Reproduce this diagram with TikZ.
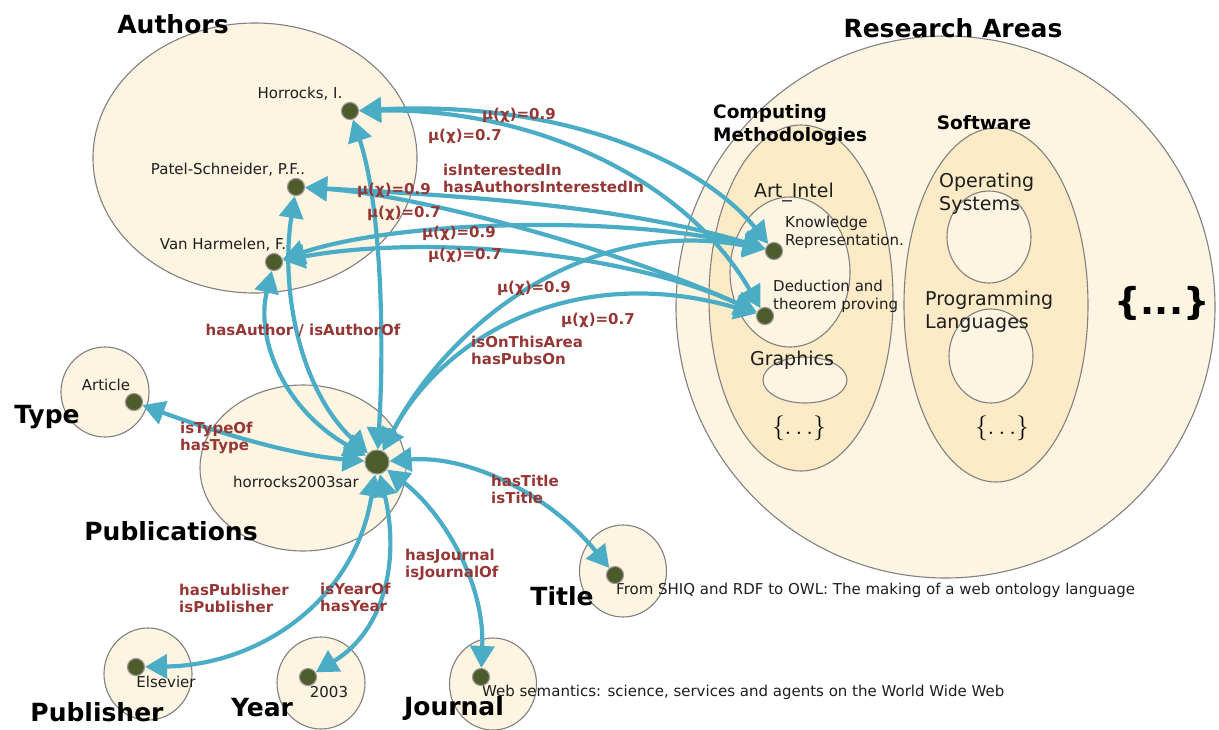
\documentclass[tikz,border=0pt]{standalone}
\usepackage{fontspec}
\setmainfont{DejaVu Sans}
\usetikzlibrary{arrows.meta,shapes.geometric}

\definecolor{linkblue}{HTML}{4BACC6}
\definecolor{relred}{HTML}{953735}
\definecolor{setfill}{HTML}{FDF5E2}
\definecolor{subfill}{HTML}{FCEBC6}
\definecolor{setedge}{HTML}{808080}
\definecolor{dotfill}{HTML}{4E5B2A}
\definecolor{inktext}{HTML}{1E1E1E}

\tikzset{
  region/.style={ellipse, draw=setedge, line width=1.1pt, fill=setfill, inner sep=0pt},
  subregion/.style={region, fill=subfill},
  dotnode/.style={circle, fill=dotfill, draw=gray!80, line width=1.2pt, minimum size=17pt, inner sep=0pt},
  bigdot/.style={dotnode, minimum size=24pt},
  setname/.style={font=\fontsize{25}{28}\bfseries\selectfont, inner sep=0pt},
  subname/.style={font=\fontsize{18.5}{23}\bfseries\selectfont, inner sep=0pt, align=left},
  areaname/.style={font=\fontsize{19}{23}\selectfont, inner sep=0pt, align=left, text=inktext},
  itemtext/.style={font=\fontsize{15}{18}\selectfont, inner sep=0pt, align=left, text=inktext},
  rel/.style={font=\fontsize{15}{17}\bfseries\selectfont, inner sep=0pt, align=left, text=relred, anchor=west},
  etc/.style={font=\fontsize{28}{32}\selectfont, inner sep=0pt},
  link/.style={draw=linkblue, line width=4.2pt,
    {Triangle[length=22pt,width=24pt]}-{Triangle[length=22pt,width=24pt]}},
}

\begin{document}
\begin{tikzpicture}[x=1pt, y=-1pt]
\useasboundingbox (0,0) rectangle (1219,729);

% ---- sets ----
\node[region, minimum width=324pt, minimum height=270pt] (authorsSet) at (255,158) {};
\node[region, minimum width=88pt, minimum height=90pt] (typeSet) at (105,392) {};
\node[region, minimum width=206pt, minimum height=166pt] (pubSet) at (303,468) {};
\node[region, minimum width=88pt, minimum height=92pt] (publisherSet) at (148,674) {};
\node[region, minimum width=88pt, minimum height=92pt] (yearSet) at (321,683) {};
\node[region, minimum width=87pt, minimum height=92pt] (journalSet) at (493,684) {};
\node[region, minimum width=87pt, minimum height=92pt] (titleSet) at (623,571) {};

% research areas
\node[region, minimum width=539pt, minimum height=542pt] (areasSet) at (945.5,307) {};
\node[subregion, minimum width=184pt, minimum height=346pt] (compSet) at (801,298) {};
\node[subregion, minimum width=184pt, minimum height=354pt] (softSet) at (996,305) {};
\node[region, minimum width=120pt, minimum height=150pt] (aiSet) at (790,272) {};
\node[region, minimum width=84pt, minimum height=46pt] (gfxSet) at (805,380) {};
\node[region, minimum width=84pt, minimum height=92pt] (osSet) at (989,237) {};
\node[region, minimum width=84pt, minimum height=94pt] (plSet) at (991,356) {};

% ---- set names ----
\node[setname] (authorsName) at (173,24) {Authors};
\node[setname] (typeName) at (47,417) {Type};
\node[setname] (pubName) at (171,531) {Publications};
\node[setname] (publisherName) at (97,712) {Publisher};
\node[setname] (yearName) at (262,708) {Year};
\node[setname] (journalName) at (454,708) {Journal};
\node[setname] (titleName) at (562,596) {Title};
\node[setname] (areasName) at (953,28) {Research Areas};
\node[subname, anchor=west] (compName) at (713,124.5) {Computing\\Methodologies};
\node[subname] (softName) at (984,123) {Software};

% ---- area labels ----
\node[areaname] (aiName) at (794,193) {Art\_Intel};
\node[areaname] (gfxName) at (792,360) {Graphics};
\node[areaname, anchor=west] (osName) at (939,193.5) {Operating\\Systems};
\node[areaname, anchor=west] (plName) at (925,312) {Programming\\Languages};
\node[etc] (compEtc) at (799,428) {$\{\ldots\}$};
\node[etc] (softEtc) at (1002,428) {$\{\ldots\}$};
\node[font=\fontsize{37}{42}\bfseries\selectfont, inner sep=0pt] (areasEtc) at (1162,303) {\{...\}};

% ---- item texts ----
\node[itemtext] (horText) at (300,94) {Horrocks, I.};
\node[itemtext] (patText) at (228,170) {Patel-Schneider, P.F..};
\node[itemtext] (vanText) at (223,245) {Van Harmelen, F.};
\node[itemtext] (artText) at (106,385) {Article};
\node[itemtext] (pubText) at (296,482) {horrocks2003sar};
\node[itemtext] (pblText) at (166,682) {Elsevier};
\node[itemtext] (yrText) at (329,692) {2003};
\node[itemtext, anchor=west] (jouText) at (482,692) {Web semantics: science, services and agents on the World Wide Web};
\node[itemtext, anchor=west] (titText) at (616,590) {From SHIQ and RDF to OWL: The making of a web ontology language};
\node[itemtext, anchor=west] (krText) at (785,232) {Knowledge\\Representation.};
\node[itemtext, anchor=west] (dedText) at (773,296.5) {Deduction and\\theorem proving};

% ---- item dots ----
\node[dotnode] (hor) at (350,111) {};
\node[dotnode] (pat) at (296,187) {};
\node[dotnode] (van) at (274,262) {};
\node[bigdot] (pub) at (377,462) {};
\node[dotnode] (art) at (134,402) {};
\node[dotnode] (pbl) at (136,667) {};
\node[dotnode] (yr) at (308,677) {};
\node[dotnode] (jou) at (481,677) {};
\node[dotnode] (tit) at (615,575) {};
\node[dotnode] (kr) at (774,251) {};
\node[dotnode] (ded) at (765,316) {};

% ---- author interests ----
\draw[link] (hor) .. controls (560,100) and (700,160) .. (kr);
\draw[link] (hor) .. controls (520,108) and (680,170) .. (ded);
\draw[link] (pat) .. controls (450,195) and (620,205) .. (kr);
\draw[link] (pat) .. controls (420,195) and (620,250) .. (ded);
\draw[link] (van) .. controls (400,220) and (620,215) .. (kr);
\draw[link] (van) .. controls (420,235) and (620,250) .. (ded);

% ---- publication links ----
\draw[link] (pub) .. controls (385,330) and (380,200) .. (hor);
\draw[link] (pub) .. controls (300,390) and (280,290) .. (pat);
\draw[link] (pub) .. controls (285,410) and (255,340) .. (van);
\draw[link] (pub) .. controls (445,330) and (580,215) .. (kr);
\draw[link] (pub) .. controls (440,340) and (570,260) .. (ded);
\draw[link] (pub) .. controls (290,455) and (210,430) .. (art);
\draw[link] (pub) .. controls (470,455) and (550,495) .. (tit);
\draw[link] (pub) .. controls (440,510) and (485,580) .. (jou);
\draw[link] (pub) .. controls (400,560) and (385,630) .. (yr);
\draw[link] (pub) .. controls (355,600) and (260,665) .. (pbl);

% redraw dots above the connectors
\foreach \d in {hor,pat,van,art,pbl,yr,jou,tit,kr,ded}
  \fill[dotfill] (\d) circle (7.5pt);
\fill[dotfill] (pub) circle (11pt);

% ---- relation labels ----
\node[rel] (l1) at (482,115) {μ(χ)=0.9};
\node[rel] (l2) at (428,136) {μ(χ)=0.7};
\node[rel] (l3) at (443,178.5) {isInterestedIn\\hasAuthorsInterestedIn};
\node[rel] (l4) at (357,190) {μ(χ)=0.9};
\node[rel] (l5) at (367,213) {μ(χ)=0.7};
\node[rel] (l6) at (422,233) {μ(χ)=0.9};
\node[rel] (l7) at (428,255) {μ(χ)=0.7};
\node[rel, anchor=center] (l8) at (303,330) {hasAuthor / isAuthorOf};
\node[rel] (l9) at (497,288) {μ(χ)=0.9};
\node[rel] (l10) at (561,320) {μ(χ)=0.7};
\node[rel] (l11) at (471,350.5) {isOnThisArea\\hasPubsOn};
\node[rel] (l12) at (180,437.5) {isTypeOf\\hasType};
\node[rel] (l13) at (491,489.5) {hasTitle\\isTitle};
\node[rel] (l14) at (405,565) {hasJournal\\isJournalOf};
\node[rel] (l15) at (320,597.5) {isYearOf\\hasYear};
\node[rel] (l16) at (179,598) {hasPublisher\\isPublisher};
\end{tikzpicture}
\end{document}
